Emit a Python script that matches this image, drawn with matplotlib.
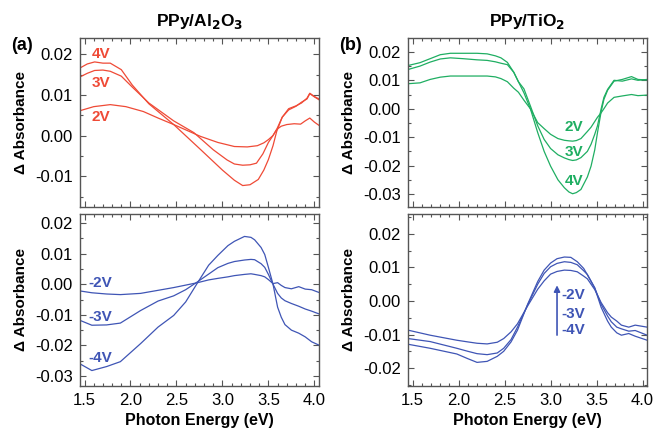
import matplotlib
matplotlib.use("Agg")
import matplotlib.pyplot as plt
from matplotlib.ticker import MultipleLocator

plt.rcParams['font.family'] = ['Liberation Sans', 'DejaVu Sans']

RED = '#ef4a36'
GREEN = '#1fae62'
BLUE = '#3f55b5'

# (a) top, PPy/Al2O3, positive bias
al_top_E = {
    '4V': [1.45, 1.53, 1.61, 1.70, 1.78, 1.90, 2.02, 2.20, 2.47, 2.76, 3.00, 3.13, 3.22, 3.30, 3.39, 3.45, 3.50, 3.55, 3.59, 3.65, 3.72, 3.80, 3.86, 3.92, 3.95, 4.00, 4.05],
    '3V': [1.45, 1.53, 1.61, 1.70, 1.78, 1.90, 2.02, 2.20, 2.47, 2.69, 2.90, 3.05, 3.13, 3.22, 3.30, 3.37, 3.44, 3.50, 3.55, 3.59, 3.65, 3.72, 3.80, 3.86, 3.92, 3.95, 4.00, 4.05],
    '2V': [1.45, 1.60, 1.78, 1.95, 2.14, 2.30, 2.47, 2.60, 2.76, 2.95, 3.13, 3.27, 3.38, 3.45, 3.50, 3.55, 3.59, 3.64, 3.70, 3.78, 3.85, 3.90, 3.95, 4.00, 4.05],
}
al_top_A = {
    '4V': [0.0166, 0.0176, 0.0181, 0.0178, 0.0178, 0.0162, 0.0124, 0.0078, 0.0027, -0.0034, -0.0085, -0.0110, -0.0123, -0.0121, -0.0108, -0.0085, -0.0059, -0.0025, 0.0010, 0.0045, 0.0063, 0.0072, 0.0082, 0.0090, 0.0103, 0.0095, 0.0088],
    '3V': [0.0144, 0.0153, 0.0160, 0.0161, 0.0158, 0.0146, 0.0119, 0.0080, 0.0036, 0.0007, -0.0035, -0.0060, -0.0070, -0.0073, -0.0072, -0.0068, -0.0045, -0.0017, 0.0000, 0.0015, 0.0045, 0.0066, 0.0073, 0.0080, 0.0092, 0.0104, 0.0096, 0.0090],
    '2V': [0.0061, 0.0071, 0.0076, 0.0071, 0.0059, 0.0043, 0.0027, 0.0014, -0.0002, -0.0017, -0.0027, -0.0028, -0.0025, -0.0018, -0.0010, 0.0000, 0.0015, 0.0023, 0.0027, 0.0029, 0.0028, 0.0036, 0.0043, 0.0033, 0.0025],
}

# (a) bottom, PPy/Al2O3, negative bias
al_bot_E = [1.45, 1.58, 1.74, 1.89, 2.11, 2.30, 2.47, 2.60, 2.73, 2.85, 2.95, 3.06, 3.13, 3.24, 3.31, 3.35, 3.42, 3.46, 3.50, 3.55, 3.60, 3.64, 3.68, 3.75, 3.83, 3.90, 3.97, 4.05]
al_bot_A = {
    '-2V': [-0.0022, -0.0028, -0.0032, -0.0034, -0.0030, -0.0020, -0.0011, -0.0003, 0.0005, 0.0014, 0.0019, 0.0024, 0.0028, 0.0032, 0.0034, 0.0032, 0.0028, 0.0024, 0.0015, 0.0002, 0.0005, -0.0004, -0.0011, -0.0015, -0.0008, -0.0016, -0.0018, -0.0027],
    '-3V': [-0.0118, -0.0134, -0.0133, -0.0127, -0.0086, -0.0055, -0.0038, -0.0018, 0.0008, 0.0033, 0.0054, 0.0068, 0.0074, 0.0079, 0.0081, 0.0080, 0.0067, 0.0055, 0.0032, 0.0000, -0.0030, -0.0045, -0.0054, -0.0063, -0.0072, -0.0081, -0.0088, -0.0097],
    '-4V': [-0.0260, -0.0282, -0.0269, -0.0253, -0.0194, -0.0140, -0.0102, -0.0058, 0.0005, 0.0062, 0.0094, 0.0126, 0.0140, 0.0156, 0.0153, 0.0145, 0.0120, 0.0097, 0.0055, 0.0000, -0.0075, -0.0108, -0.0132, -0.0150, -0.0160, -0.0172, -0.0188, -0.0199],
}

# (b) top, PPy/TiO2, positive bias
ti_top_E = [1.45, 1.58, 1.69, 1.80, 1.91, 2.05, 2.20, 2.31, 2.40, 2.46, 2.53, 2.60, 2.65, 2.71, 2.78, 2.86, 2.93, 3.00, 3.08, 3.15, 3.20, 3.24, 3.28, 3.33, 3.40, 3.44, 3.48, 3.51, 3.55, 3.58, 3.62, 3.69, 3.78, 3.88, 3.95, 4.05]
ti_top_A = {
    '4V': [0.0152, 0.0162, 0.0176, 0.0190, 0.0195, 0.0195, 0.0195, 0.0193, 0.0186, 0.0179, 0.0163, 0.0128, 0.0095, 0.0056, 0.0000, -0.0084, -0.0150, -0.0202, -0.0250, -0.0278, -0.0293, -0.0299, -0.0295, -0.0284, -0.0240, -0.0202, -0.0145, -0.0084, -0.0010, 0.0033, 0.0065, 0.0097, 0.0103, 0.0113, 0.0103, 0.0101],
    '3V': [0.0138, 0.0150, 0.0164, 0.0175, 0.0179, 0.0176, 0.0172, 0.0170, 0.0165, 0.0160, 0.0155, 0.0128, 0.0095, 0.0070, 0.0010, -0.0060, -0.0108, -0.0140, -0.0162, -0.0173, -0.0179, -0.0182, -0.0180, -0.0172, -0.0150, -0.0125, -0.0090, -0.0060, 0.0000, 0.0040, 0.0068, 0.0100, 0.0097, 0.0105, 0.0100, 0.0103],
    '2V': [0.0088, 0.0091, 0.0103, 0.0111, 0.0115, 0.0115, 0.0115, 0.0115, 0.0112, 0.0106, 0.0095, 0.0072, 0.0058, 0.0030, 0.0000, -0.0049, -0.0070, -0.0090, -0.0105, -0.0111, -0.0113, -0.0114, -0.0112, -0.0105, -0.0080, -0.0065, -0.0045, -0.0030, -0.0014, 0.0000, 0.0020, 0.0040, 0.0045, 0.0050, 0.0046, 0.0048],
}

# (b) bottom, PPy/TiO2, negative bias
ti_bot_E = [1.45, 1.69, 1.98, 2.10, 2.20, 2.31, 2.42, 2.49, 2.57, 2.64, 2.75, 2.86, 2.93, 3.00, 3.07, 3.15, 3.22, 3.29, 3.36, 3.40, 3.48, 3.55, 3.62, 3.66, 3.72, 3.77, 3.85, 3.92, 4.05]
ti_bot_A = {
    '-2V': [-0.0087, -0.0102, -0.0117, -0.0122, -0.0126, -0.0128, -0.0123, -0.0112, -0.0092, -0.0068, -0.0015, 0.0035, 0.0060, 0.0080, 0.0088, 0.0092, 0.0091, 0.0087, 0.0074, 0.0066, 0.0034, -0.0005, -0.0035, -0.0048, -0.0060, -0.0072, -0.0078, -0.0072, -0.0078],
    '-3V': [-0.0112, -0.0121, -0.0141, -0.0150, -0.0157, -0.0160, -0.0155, -0.0141, -0.0115, -0.0078, -0.0012, 0.0050, 0.0082, 0.0102, 0.0112, 0.0117, 0.0115, 0.0108, 0.0090, 0.0079, 0.0039, -0.0010, -0.0045, -0.0062, -0.0078, -0.0083, -0.0090, -0.0088, -0.0102],
    '-4V': [-0.0129, -0.0141, -0.0158, -0.0172, -0.0183, -0.0180, -0.0165, -0.0150, -0.0122, -0.0087, -0.0010, 0.0058, 0.0092, 0.0113, 0.0126, 0.0131, 0.0130, 0.0117, 0.0097, 0.0078, 0.0039, -0.0019, -0.0060, -0.0078, -0.0095, -0.0102, -0.0097, -0.0105, -0.0117],
}

fig = plt.figure(figsize=(6.55, 4.36), dpi=100)
ax_tl = fig.add_axes([0.122, 0.525, 0.365, 0.388])
ax_bl = fig.add_axes([0.122, 0.115, 0.365, 0.394])
ax_tr = fig.add_axes([0.623, 0.525, 0.365, 0.388])
ax_br = fig.add_axes([0.623, 0.115, 0.365, 0.394])


def style(ax, ylim, bottom=False):
    ax.set_xlim(1.45, 4.05)
    ax.set_ylim(*ylim)
    ax.xaxis.set_major_locator(MultipleLocator(0.5))
    ax.xaxis.set_minor_locator(MultipleLocator(0.1))
    ax.yaxis.set_major_locator(MultipleLocator(0.01))
    ax.yaxis.set_minor_locator(MultipleLocator(0.005))
    ax.yaxis.set_major_formatter(plt.FuncFormatter(lambda v, p: '%.2f' % v if abs(v) > 1e-9 else '0.00'))
    ax.tick_params(which='both', direction='in', top=True, right=True, colors='#555555',
                   labelcolor='black', labelsize=12, width=0.8)
    ax.tick_params(which='major', length=4, pad=5)
    ax.tick_params(which='minor', length=2)
    for s in ax.spines.values():
        s.set_color('#555555')
        s.set_linewidth(1.0)
    ax.set_ylabel('Δ Absorbance', fontsize=11, fontweight='bold', labelpad=5)
    if bottom:
        ax.set_xlabel('Photon Energy (eV)', fontsize=11.5, fontweight='bold', labelpad=4)
        ax.xaxis.set_major_formatter(plt.FuncFormatter(lambda v, p: '%.1f' % v))
    else:
        ax.tick_params(labelbottom=False)


lw = 0.9
for k in ['4V', '3V', '2V']:
    ax_tl.plot(al_top_E[k], al_top_A[k], color=RED, lw=lw)
for k in ['-2V', '-3V', '-4V']:
    ax_bl.plot(al_bot_E, al_bot_A[k], color=BLUE, lw=lw)
for k in ['4V', '3V', '2V']:
    ax_tr.plot(ti_top_E, ti_top_A[k], color=GREEN, lw=lw)
for k in ['-2V', '-3V', '-4V']:
    ax_br.plot(ti_bot_E, ti_bot_A[k], color=BLUE, lw=lw)

style(ax_tl, (-0.0176, 0.024))
style(ax_bl, (-0.0332, 0.0229), bottom=True)
style(ax_tr, (-0.0346, 0.0249))
style(ax_br, (-0.0253, 0.0259), bottom=True)

tk = dict(fontsize=11, fontweight='bold', ha='center', va='center')
for lab, y in zip(['4V', '3V', '2V'], [0.0200, 0.0129, 0.0046]):
    ax_tl.text(1.68, y, lab, color=RED, **tk)
for lab, y in zip(['2V', '3V', '4V'], [-0.0063, -0.0151, -0.0253]):
    ax_tr.text(3.25, y, lab, color=GREEN, **tk)
for lab, y in zip(['-2V', '-3V', '-4V'], [0.0003, -0.0106, -0.0242]):
    ax_bl.text(1.67, y, lab, color=BLUE, **tk)
for lab, y in zip(['-2V', '-3V', '-4V'], [0.0018, -0.0038, -0.0088]):
    ax_br.text(3.25, y, lab, color=BLUE, **tk)
ax_br.annotate('', xy=(3.07, 0.0055), xytext=(3.07, -0.0110),
               arrowprops=dict(arrowstyle='-|>', color=BLUE, lw=1.2, mutation_scale=9))

fig.text(0.305, 0.95, 'PPy/Al$_\\mathbf{2}$O$_\\mathbf{3}$', fontsize=12.5, fontweight='bold', ha='center', va='center')
fig.text(0.805, 0.95, 'PPy/TiO$_\\mathbf{2}$', fontsize=12.5, fontweight='bold', ha='center', va='center')
fig.text(0.033, 0.895, '(a)', fontsize=13, fontweight='bold', ha='center', va='center')
fig.text(0.535, 0.895, '(b)', fontsize=13, fontweight='bold', ha='center', va='center')

fig.savefig('out.png', dpi=100)
